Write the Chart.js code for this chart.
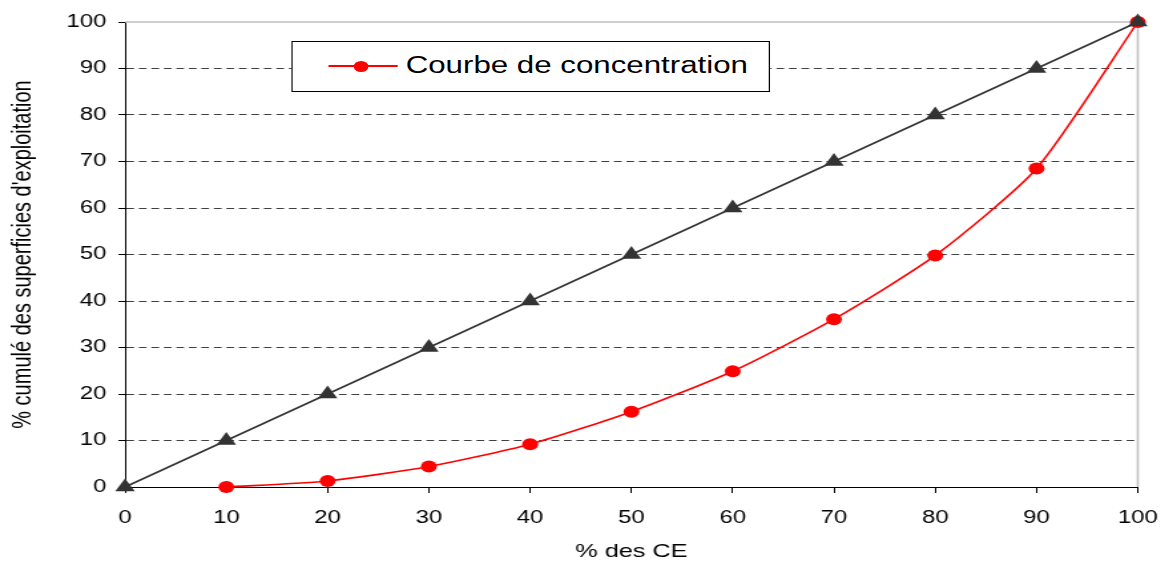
<!DOCTYPE html>
<html>
<head>
<meta charset="utf-8">
<script src="https://cdn.jsdelivr.net/npm/chart.js@4.4.1/dist/chart.umd.min.js"></script>
<style>
  html, body { margin: 0; padding: 0; background: #fff; overflow: hidden; }
  /* the original picture is stretched horizontally, so is this one */
  #wrap { position: relative; width: 875px; height: 564px; transform: scaleX(1.33); transform-origin: 0 0; }
  #legende { position: absolute; left: 219px; top: 41px; width: 358px; height: 49px;
    border: 1px solid #000; background: #fff; font: 23.5px "Liberation Sans", Arial, sans-serif; color: #000; }
  #legende .trait { position: absolute; left: 27px; top: 23px; width: 52px; height: 2px; }
  #legende .point { position: absolute; left: 46px; top: 18.5px; width: 11px; height: 11px; border-radius: 50%; }
  #legende .texte { position: absolute; left: 85px; top: 10px; white-space: nowrap; line-height: 27px; }
</style>
</head>
<body>
<div id="wrap">
  <canvas id="lorenz"></canvas>
  <div id="legende"></div>
</div>
<script>
// % des CE (x) et % cumulé des superficies (y)
var xEgalite = [0, 10, 20, 30, 40, 50, 60, 70, 80, 90, 100];
var yEgalite = [0, 10, 20, 30, 40, 50, 60, 70, 80, 90, 100];
var xConcentration = [10, 20, 30, 40, 50, 60, 70, 80, 90, 100];
var yConcentration = [0, 1.3, 4.4, 9.2, 16.2, 24.9, 36.1, 49.8, 68.5, 100];
var ticksAxe = [0, 10, 20, 30, 40, 50, 60, 70, 80, 90, 100];

var police = '"Liberation Sans", Arial, sans-serif';

function points(xs, ys) {
  return xs.map(function (x, i) { return { x: x, y: ys[i] }; });
}

// cadre gris en haut et a droite
var cadre = {
  id: 'cadre',
  beforeDatasetsDraw: function (chart) {
    var ctx = chart.ctx, a = chart.chartArea;
    ctx.save();
    ctx.strokeStyle = '#c0c0c0';
    ctx.lineWidth = 1.6;
    ctx.beginPath();
    ctx.moveTo(a.left, a.top);
    ctx.lineTo(a.right, a.top);
    ctx.lineTo(a.right, a.bottom);
    ctx.stroke();
    ctx.restore();
  }
};

var ctx = document.getElementById('lorenz').getContext('2d');
var chart = new Chart(ctx, {
  type: 'line',
  data: {
    datasets: [{
        label: "Ligne d'égalité",
        data: points(xEgalite, yEgalite),
        borderColor: '#333333',
        backgroundColor: '#333333',
        borderWidth: 1.6,
        pointStyle: 'triangle',
        pointRadius: 8.5,
        pointBorderWidth: 0,
        tension: 0,
        clip: false
      },
      {
        label: 'Courbe de concentration',
        data: points(xConcentration, yConcentration),
        borderColor: '#ff0000',
        backgroundColor: '#ff0000',
        borderWidth: 1.6,
        pointRadius: 6,
        pointBorderWidth: 0,
        tension: 0.22,
        clip: false
      }
    ]
  },
  options: {
    responsive: true,
    maintainAspectRatio: false,
    animation: false,
    layout: { padding: { left: 0, right: 19.5, top: 22, bottom: 0 } },
    plugins: { legend: { display: false }, tooltip: { enabled: false } },
    scales: {
      x: {
        type: 'linear',
        min: 0,
        max: 100,
        afterBuildTicks: function (s) { s.ticks = ticksAxe.map(function (v) { return { value: v }; }); },
        afterFit: function (s) { s.height = 77; s.paddingLeft = 0; s.paddingRight = 0; },
        ticks: { color: '#000', font: { family: police, size: 18 }, padding: 14, maxRotation: 0 },
        grid: { drawOnChartArea: false, tickLength: 6, tickColor: '#000', tickWidth: 1 },
        border: { color: '#000', width: 1 },
        title: { display: true, text: '% des CE', color: '#000', font: { family: police, size: 19 }, padding: { top: 0, bottom: 1 } }
      },
      y: {
        min: 0,
        max: 100,
        afterBuildTicks: function (s) { s.ticks = ticksAxe.map(function (v) { return { value: v }; }); },
        afterFit: function (s) { s.width = 94; s.paddingTop = 0; s.paddingBottom = 0; },
        ticks: { color: '#000', font: { family: police, size: 18 }, padding: 9 },
        grid: {
          tickLength: 5,
          tickColor: '#000',
          lineWidth: 1,
          color: function (c) {
            if (c.tick && (c.tick.value === 0 || c.tick.value === 100)) return 'rgba(0,0,0,0)';
            return '#404040';
          }
        },
        border: { color: '#000', width: 1, dash: [5.8, 3.6] },
        title: { display: true, text: "% cumulé des superficies d'exploitation", color: '#000', font: { family: police, size: 20 }, padding: { top: 5, bottom: 0 } }
      }
    }
  },
  plugins: [cadre]
});

// legende (seulement la courbe de concentration)
var ds = chart.data.datasets[1];
document.getElementById('legende').innerHTML =
  '<div class="trait" style="background:' + ds.borderColor + '"></div>' +
  '<div class="point" style="background:' + ds.backgroundColor + '"></div>' +
  '<div class="texte">' + ds.label + '</div>';
</script>
</body>
</html>
